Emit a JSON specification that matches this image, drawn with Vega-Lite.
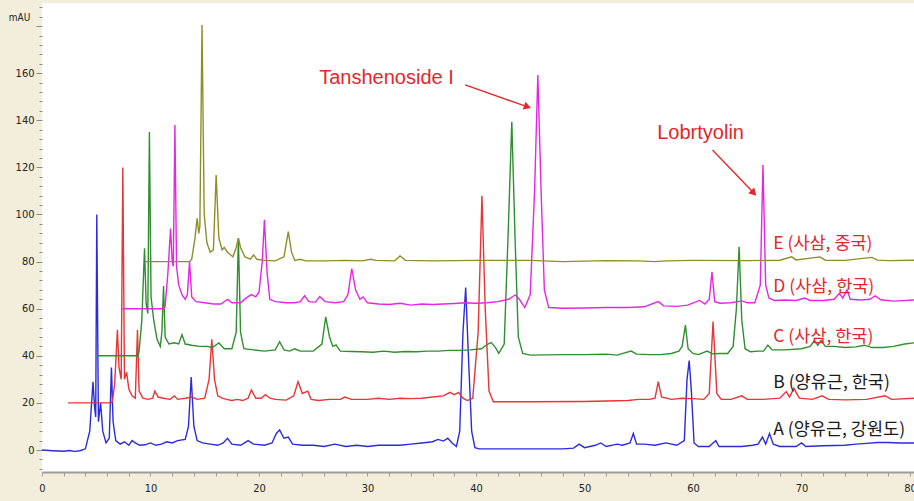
{
  "$schema": "https://vega.github.io/schema/vega-lite/v6.json",
  "width": 872,
  "height": 469,
  "autosize": {"type": "none"},
  "padding": {"left": 42, "top": 3, "right": 0, "bottom": 29},
  "background": "#f2eedb",
  "config": {"view": {"fill": "white", "stroke": null}, "axis": {"labelOverlap": false, "labelFlush": false, "grid": false, "tickCount": 200}},
  "resolve": {"scale": {"color": "independent"}},
  "datasets": {
    "traces": [
      {"s":"A","t":0,"v":0},{"s":"A","t":1,"v":-0.3},{"s":"A","t":2,"v":-0.5},{"s":"A","t":2.5,"v":-0.2},{"s":"A","t":3,"v":-0.6},{"s":"A","t":3.5,"v":-0.3},{"s":"A","t":4,"v":0.5},{"s":"A","t":4.4,"v":8},{"s":"A","t":4.7,"v":29},{"s":"A","t":4.85,"v":18},{"s":"A","t":4.95,"v":14},{"s":"A","t":5.05,"v":100},{"s":"A","t":5.2,"v":12},{"s":"A","t":5.4,"v":20},{"s":"A","t":5.6,"v":8},{"s":"A","t":5.9,"v":3},{"s":"A","t":6.2,"v":5},{"s":"A","t":6.4,"v":35},{"s":"A","t":6.55,"v":12},{"s":"A","t":6.8,"v":4},{"s":"A","t":7.2,"v":2.5},{"s":"A","t":7.6,"v":3.5},{"s":"A","t":8,"v":2},{"s":"A","t":8.3,"v":4},{"s":"A","t":8.6,"v":3},{"s":"A","t":9,"v":2},{"s":"A","t":9.5,"v":2.2},{"s":"A","t":10,"v":3},{"s":"A","t":10.5,"v":2},{"s":"A","t":11,"v":2.5},{"s":"A","t":11.5,"v":3.5},{"s":"A","t":12,"v":3},{"s":"A","t":12.5,"v":4},{"s":"A","t":13.2,"v":4.5},{"s":"A","t":13.5,"v":10},{"s":"A","t":13.75,"v":31},{"s":"A","t":14,"v":10},{"s":"A","t":14.3,"v":4},{"s":"A","t":14.8,"v":3},{"s":"A","t":15.5,"v":2.5},{"s":"A","t":16.2,"v":2},{"s":"A","t":16.7,"v":3},{"s":"A","t":17.1,"v":5},{"s":"A","t":17.5,"v":2.5},{"s":"A","t":18.3,"v":2},{"s":"A","t":19,"v":4},{"s":"A","t":19.5,"v":2.5},{"s":"A","t":20.5,"v":2},{"s":"A","t":21.2,"v":3},{"s":"A","t":21.6,"v":7},{"s":"A","t":21.9,"v":8.5},{"s":"A","t":22.3,"v":5},{"s":"A","t":22.7,"v":5.5},{"s":"A","t":23.1,"v":2.5},{"s":"A","t":24,"v":2},{"s":"A","t":25,"v":2},{"s":"A","t":26,"v":1.5},{"s":"A","t":27,"v":2.5},{"s":"A","t":28,"v":1.5},{"s":"A","t":29,"v":2},{"s":"A","t":30,"v":1.5},{"s":"A","t":31,"v":2},{"s":"A","t":32,"v":2},{"s":"A","t":33,"v":2},{"s":"A","t":34,"v":2.5},{"s":"A","t":35,"v":3},{"s":"A","t":36,"v":3.5},{"s":"A","t":36.5,"v":4.5},{"s":"A","t":37,"v":3.8},{"s":"A","t":37.4,"v":5},{"s":"A","t":37.8,"v":3},{"s":"A","t":38.2,"v":1.5},{"s":"A","t":38.5,"v":8},{"s":"A","t":38.8,"v":50},{"s":"A","t":39.05,"v":69},{"s":"A","t":39.3,"v":40},{"s":"A","t":39.6,"v":8},{"s":"A","t":39.9,"v":1},{"s":"A","t":40.3,"v":0.5},{"s":"A","t":45,"v":0.5},{"s":"A","t":48,"v":0.5},{"s":"A","t":49,"v":0.8},{"s":"A","t":49.5,"v":2.5},{"s":"A","t":50,"v":1},{"s":"A","t":51,"v":2},{"s":"A","t":51.5,"v":3},{"s":"A","t":52,"v":1.5},{"s":"A","t":53,"v":2.5},{"s":"A","t":53.5,"v":2},{"s":"A","t":54.2,"v":3},{"s":"A","t":54.5,"v":7},{"s":"A","t":54.8,"v":2.5},{"s":"A","t":55.5,"v":2.5},{"s":"A","t":56.5,"v":2},{"s":"A","t":57.5,"v":3},{"s":"A","t":58.5,"v":2},{"s":"A","t":59.2,"v":4},{"s":"A","t":59.45,"v":30},{"s":"A","t":59.65,"v":38},{"s":"A","t":59.85,"v":25},{"s":"A","t":60.1,"v":3},{"s":"A","t":60.5,"v":1.5},{"s":"A","t":61.5,"v":1.5},{"s":"A","t":62.1,"v":4},{"s":"A","t":62.4,"v":1.5},{"s":"A","t":63.5,"v":1.5},{"s":"A","t":64.5,"v":1.5},{"s":"A","t":65.5,"v":2},{"s":"A","t":66,"v":2.5},{"s":"A","t":66.4,"v":5.5},{"s":"A","t":66.7,"v":2.5},{"s":"A","t":67.05,"v":7},{"s":"A","t":67.4,"v":2.5},{"s":"A","t":68,"v":1.5},{"s":"A","t":69.5,"v":1.5},{"s":"A","t":70,"v":3},{"s":"A","t":70.4,"v":1.5},{"s":"A","t":72,"v":1.8},{"s":"A","t":74,"v":2},{"s":"A","t":75,"v":2.5},{"s":"A","t":76,"v":2.8},{"s":"A","t":77,"v":3.2},{"s":"A","t":78,"v":3.2},{"s":"A","t":79,"v":3},{"s":"A","t":80.4,"v":3},
      {"s":"B","t":2.4,"v":20},{"s":"B","t":6.4,"v":20},{"s":"B","t":6.5,"v":21},{"s":"B","t":6.7,"v":28},{"s":"B","t":6.95,"v":51},{"s":"B","t":7.1,"v":35},{"s":"B","t":7.3,"v":30},{"s":"B","t":7.45,"v":120},{"s":"B","t":7.6,"v":30},{"s":"B","t":7.8,"v":33},{"s":"B","t":8,"v":26},{"s":"B","t":8.3,"v":23},{"s":"B","t":8.6,"v":22},{"s":"B","t":8.8,"v":51},{"s":"B","t":8.95,"v":25},{"s":"B","t":9.3,"v":22},{"s":"B","t":9.8,"v":21.5},{"s":"B","t":10.2,"v":22},{"s":"B","t":10.4,"v":25},{"s":"B","t":10.7,"v":22.5},{"s":"B","t":11.2,"v":22},{"s":"B","t":11.8,"v":21.5},{"s":"B","t":12.2,"v":23},{"s":"B","t":12.5,"v":21.5},{"s":"B","t":13.2,"v":22},{"s":"B","t":13.8,"v":22.5},{"s":"B","t":14.3,"v":21.5},{"s":"B","t":15,"v":22},{"s":"B","t":15.4,"v":30},{"s":"B","t":15.65,"v":47},{"s":"B","t":15.9,"v":30},{"s":"B","t":16.2,"v":23},{"s":"B","t":16.6,"v":22},{"s":"B","t":17,"v":21.5},{"s":"B","t":17.5,"v":21},{"s":"B","t":18,"v":21.5},{"s":"B","t":18.5,"v":21},{"s":"B","t":19,"v":22},{"s":"B","t":19.3,"v":25.5},{"s":"B","t":19.7,"v":22},{"s":"B","t":20.2,"v":22},{"s":"B","t":20.6,"v":23.5},{"s":"B","t":21,"v":22},{"s":"B","t":21.5,"v":21.5},{"s":"B","t":22.5,"v":21.2},{"s":"B","t":23.2,"v":23},{"s":"B","t":23.6,"v":29},{"s":"B","t":24,"v":24},{"s":"B","t":24.5,"v":25},{"s":"B","t":24.8,"v":21.5},{"s":"B","t":25.5,"v":21},{"s":"B","t":26.5,"v":21.5},{"s":"B","t":27.5,"v":21.5},{"s":"B","t":27.9,"v":22.5},{"s":"B","t":28.5,"v":21.5},{"s":"B","t":30,"v":21.5},{"s":"B","t":31,"v":22},{"s":"B","t":32,"v":21.5},{"s":"B","t":33,"v":22},{"s":"B","t":34,"v":21.8},{"s":"B","t":35,"v":22},{"s":"B","t":36,"v":22.5},{"s":"B","t":37,"v":23},{"s":"B","t":37.6,"v":24.5},{"s":"B","t":38,"v":23.5},{"s":"B","t":38.4,"v":24.5},{"s":"B","t":38.8,"v":22},{"s":"B","t":39.2,"v":21},{"s":"B","t":39.7,"v":22},{"s":"B","t":40.2,"v":50},{"s":"B","t":40.55,"v":108},{"s":"B","t":40.85,"v":60},{"s":"B","t":41.2,"v":25},{"s":"B","t":41.6,"v":20.5},{"s":"B","t":45,"v":20.5},{"s":"B","t":50,"v":20.6},{"s":"B","t":54,"v":21},{"s":"B","t":55,"v":21.5},{"s":"B","t":56,"v":21.5},{"s":"B","t":56.5,"v":22},{"s":"B","t":56.8,"v":29},{"s":"B","t":57.1,"v":22.5},{"s":"B","t":58,"v":21.5},{"s":"B","t":59,"v":22},{"s":"B","t":60,"v":21.8},{"s":"B","t":61,"v":21.5},{"s":"B","t":61.5,"v":24},{"s":"B","t":61.85,"v":54.5},{"s":"B","t":62.2,"v":24},{"s":"B","t":62.6,"v":21.5},{"s":"B","t":63.5,"v":21.5},{"s":"B","t":64.5,"v":23},{"s":"B","t":65,"v":21.5},{"s":"B","t":66.5,"v":21.5},{"s":"B","t":68,"v":22},{"s":"B","t":68.6,"v":24.8},{"s":"B","t":68.9,"v":22.5},{"s":"B","t":69.3,"v":26.2},{"s":"B","t":69.8,"v":22},{"s":"B","t":71,"v":21.5},{"s":"B","t":71.9,"v":23},{"s":"B","t":72.5,"v":21.5},{"s":"B","t":74,"v":21.3},{"s":"B","t":76,"v":21.5},{"s":"B","t":77.7,"v":23},{"s":"B","t":78.3,"v":21.5},{"s":"B","t":80.4,"v":22},
      {"s":"C","t":5.06,"v":40},{"s":"C","t":8.85,"v":40},{"s":"C","t":8.95,"v":42},{"s":"C","t":9.2,"v":55},{"s":"C","t":9.45,"v":85.7},{"s":"C","t":9.6,"v":62},{"s":"C","t":9.75,"v":58},{"s":"C","t":9.9,"v":135},{"s":"C","t":10.05,"v":65},{"s":"C","t":10.3,"v":55},{"s":"C","t":10.6,"v":47},{"s":"C","t":10.9,"v":44},{"s":"C","t":11.05,"v":50},{"s":"C","t":11.2,"v":69.6},{"s":"C","t":11.35,"v":48},{"s":"C","t":11.7,"v":45},{"s":"C","t":12.2,"v":45.5},{"s":"C","t":12.6,"v":45},{"s":"C","t":12.9,"v":49},{"s":"C","t":13.2,"v":45},{"s":"C","t":13.8,"v":44.5},{"s":"C","t":14.5,"v":44},{"s":"C","t":15.2,"v":44},{"s":"C","t":15.7,"v":43.5},{"s":"C","t":16.3,"v":45.5},{"s":"C","t":16.8,"v":43},{"s":"C","t":17.5,"v":43},{"s":"C","t":17.9,"v":50},{"s":"C","t":18.1,"v":90},{"s":"C","t":18.3,"v":50},{"s":"C","t":18.6,"v":43},{"s":"C","t":19.5,"v":42.5},{"s":"C","t":20.5,"v":42},{"s":"C","t":21.5,"v":42.5},{"s":"C","t":21.9,"v":46},{"s":"C","t":22.3,"v":42.5},{"s":"C","t":22.8,"v":42},{"s":"C","t":23.3,"v":43},{"s":"C","t":23.8,"v":42},{"s":"C","t":25,"v":42},{"s":"C","t":25.8,"v":45},{"s":"C","t":26.15,"v":56.5},{"s":"C","t":26.5,"v":48},{"s":"C","t":26.8,"v":44},{"s":"C","t":27.1,"v":44.6},{"s":"C","t":27.5,"v":42},{"s":"C","t":28.5,"v":41.8},{"s":"C","t":29.5,"v":41.7},{"s":"C","t":30.5,"v":41.5},{"s":"C","t":31.5,"v":42},{"s":"C","t":32.5,"v":41.5},{"s":"C","t":33.5,"v":41.8},{"s":"C","t":34.5,"v":41.7},{"s":"C","t":35.5,"v":42},{"s":"C","t":36.5,"v":42},{"s":"C","t":37.5,"v":42.3},{"s":"C","t":38.5,"v":42.3},{"s":"C","t":39.5,"v":42.5},{"s":"C","t":40.5,"v":43},{"s":"C","t":41.1,"v":45},{"s":"C","t":41.4,"v":45.6},{"s":"C","t":41.8,"v":43.5},{"s":"C","t":42.1,"v":41},{"s":"C","t":42.6,"v":45},{"s":"C","t":42.95,"v":90},{"s":"C","t":43.3,"v":139.4},{"s":"C","t":43.6,"v":90},{"s":"C","t":43.9,"v":48},{"s":"C","t":44.3,"v":41},{"s":"C","t":45,"v":40.3},{"s":"C","t":48,"v":40.5},{"s":"C","t":50,"v":40.5},{"s":"C","t":52,"v":40.7},{"s":"C","t":53,"v":40.3},{"s":"C","t":54.3,"v":42},{"s":"C","t":54.8,"v":40.7},{"s":"C","t":56,"v":40.5},{"s":"C","t":57,"v":40.5},{"s":"C","t":58,"v":41},{"s":"C","t":58.7,"v":42},{"s":"C","t":59,"v":44},{"s":"C","t":59.3,"v":53},{"s":"C","t":59.55,"v":43},{"s":"C","t":60,"v":41},{"s":"C","t":60.5,"v":40.5},{"s":"C","t":61.3,"v":42},{"s":"C","t":61.8,"v":40.8},{"s":"C","t":62.5,"v":41},{"s":"C","t":63.2,"v":41},{"s":"C","t":63.7,"v":44},{"s":"C","t":64,"v":60},{"s":"C","t":64.25,"v":86.3},{"s":"C","t":64.5,"v":55},{"s":"C","t":64.8,"v":43},{"s":"C","t":65.3,"v":41.7},{"s":"C","t":66,"v":42},{"s":"C","t":66.5,"v":42},{"s":"C","t":66.9,"v":44.5},{"s":"C","t":67.3,"v":42.5},{"s":"C","t":68.5,"v":42.5},{"s":"C","t":70,"v":43},{"s":"C","t":70.8,"v":44},{"s":"C","t":71.2,"v":46.5},{"s":"C","t":71.5,"v":44.5},{"s":"C","t":71.8,"v":46.5},{"s":"C","t":72.2,"v":44},{"s":"C","t":73,"v":44},{"s":"C","t":74,"v":43.5},{"s":"C","t":75,"v":43.8},{"s":"C","t":75.8,"v":44.5},{"s":"C","t":76.5,"v":43.5},{"s":"C","t":77.5,"v":43.5},{"s":"C","t":78.5,"v":44},{"s":"C","t":79.5,"v":45},{"s":"C","t":80.4,"v":45.5},
      {"s":"D","t":7.4,"v":60},{"s":"D","t":11.2,"v":60},{"s":"D","t":11.35,"v":61},{"s":"D","t":11.6,"v":75},{"s":"D","t":11.85,"v":94},{"s":"D","t":12,"v":80},{"s":"D","t":12.1,"v":78},{"s":"D","t":12.25,"v":138},{"s":"D","t":12.4,"v":78},{"s":"D","t":12.6,"v":70},{"s":"D","t":12.9,"v":66},{"s":"D","t":13.2,"v":64},{"s":"D","t":13.4,"v":66},{"s":"D","t":13.6,"v":80},{"s":"D","t":13.8,"v":65},{"s":"D","t":14.2,"v":63},{"s":"D","t":15,"v":62.5},{"s":"D","t":15.8,"v":62},{"s":"D","t":16.5,"v":62},{"s":"D","t":17.1,"v":64},{"s":"D","t":17.5,"v":62.5},{"s":"D","t":18.3,"v":62.5},{"s":"D","t":18.8,"v":64.5},{"s":"D","t":19.3,"v":66},{"s":"D","t":19.7,"v":65},{"s":"D","t":20,"v":67},{"s":"D","t":20.3,"v":80},{"s":"D","t":20.5,"v":97.7},{"s":"D","t":20.75,"v":75},{"s":"D","t":21,"v":64},{"s":"D","t":21.5,"v":63},{"s":"D","t":22.5,"v":62.5},{"s":"D","t":23.3,"v":62.5},{"s":"D","t":23.8,"v":63},{"s":"D","t":24.2,"v":65.5},{"s":"D","t":24.6,"v":63},{"s":"D","t":25.2,"v":62.8},{"s":"D","t":25.6,"v":65.2},{"s":"D","t":26.1,"v":63},{"s":"D","t":27,"v":62.5},{"s":"D","t":27.8,"v":63},{"s":"D","t":28.2,"v":66},{"s":"D","t":28.55,"v":77},{"s":"D","t":28.9,"v":68},{"s":"D","t":29.3,"v":64},{"s":"D","t":29.6,"v":65},{"s":"D","t":30,"v":62.5},{"s":"D","t":31,"v":62},{"s":"D","t":32,"v":61.8},{"s":"D","t":33,"v":62.3},{"s":"D","t":34,"v":61.5},{"s":"D","t":35,"v":62},{"s":"D","t":36,"v":61.8},{"s":"D","t":37,"v":62},{"s":"D","t":38,"v":62.2},{"s":"D","t":39,"v":62.5},{"s":"D","t":40,"v":62.3},{"s":"D","t":41,"v":62.5},{"s":"D","t":42,"v":63},{"s":"D","t":43,"v":64},{"s":"D","t":43.6,"v":65.8},{"s":"D","t":44,"v":64},{"s":"D","t":44.5,"v":60.5},{"s":"D","t":45,"v":66},{"s":"D","t":45.4,"v":110},{"s":"D","t":45.7,"v":159.2},{"s":"D","t":46,"v":110},{"s":"D","t":46.3,"v":68},{"s":"D","t":46.7,"v":60.5},{"s":"D","t":48,"v":60.2},{"s":"D","t":50,"v":60.3},{"s":"D","t":52,"v":60.5},{"s":"D","t":54,"v":60.5},{"s":"D","t":55.5,"v":60.8},{"s":"D","t":56.8,"v":63},{"s":"D","t":57.3,"v":61.2},{"s":"D","t":58.5,"v":61},{"s":"D","t":59.5,"v":61.5},{"s":"D","t":60.6,"v":63.5},{"s":"D","t":61.1,"v":62},{"s":"D","t":61.5,"v":64},{"s":"D","t":61.75,"v":75.7},{"s":"D","t":62,"v":63},{"s":"D","t":62.5,"v":62.3},{"s":"D","t":63.5,"v":62.5},{"s":"D","t":64.5,"v":63.3},{"s":"D","t":65,"v":62.5},{"s":"D","t":65.7,"v":62.5},{"s":"D","t":66.2,"v":70},{"s":"D","t":66.45,"v":121},{"s":"D","t":66.7,"v":70},{"s":"D","t":67,"v":64.5},{"s":"D","t":67.5,"v":63.5},{"s":"D","t":68.5,"v":63.7},{"s":"D","t":69.5,"v":63.5},{"s":"D","t":70.3,"v":64.5},{"s":"D","t":70.8,"v":63.5},{"s":"D","t":72,"v":63.5},{"s":"D","t":73,"v":64},{"s":"D","t":73.5,"v":66.5},{"s":"D","t":73.8,"v":64.5},{"s":"D","t":74.2,"v":68},{"s":"D","t":74.5,"v":64},{"s":"D","t":75.5,"v":63.7},{"s":"D","t":76.3,"v":64},{"s":"D","t":76.8,"v":65.5},{"s":"D","t":77.3,"v":63.8},{"s":"D","t":78.5,"v":63.2},{"s":"D","t":80.4,"v":63.7},
      {"s":"E","t":9.5,"v":80},{"s":"E","t":13.6,"v":80},{"s":"E","t":13.8,"v":81},{"s":"E","t":14.1,"v":90},{"s":"E","t":14.3,"v":98.4},{"s":"E","t":14.45,"v":92},{"s":"E","t":14.55,"v":95},{"s":"E","t":14.75,"v":180.5},{"s":"E","t":14.95,"v":100},{"s":"E","t":15.2,"v":88},{"s":"E","t":15.5,"v":84},{"s":"E","t":15.8,"v":85},{"s":"E","t":16.05,"v":116.8},{"s":"E","t":16.3,"v":90},{"s":"E","t":16.6,"v":85},{"s":"E","t":16.8,"v":86},{"s":"E","t":17.1,"v":84},{"s":"E","t":17.6,"v":82},{"s":"E","t":17.9,"v":86},{"s":"E","t":18.1,"v":89.9},{"s":"E","t":18.3,"v":86},{"s":"E","t":18.7,"v":82},{"s":"E","t":19.2,"v":81},{"s":"E","t":19.5,"v":82.8},{"s":"E","t":19.8,"v":81},{"s":"E","t":20.5,"v":80.5},{"s":"E","t":21.5,"v":80.3},{"s":"E","t":22.3,"v":82},{"s":"E","t":22.7,"v":92.7},{"s":"E","t":23,"v":84},{"s":"E","t":23.3,"v":80.5},{"s":"E","t":23.8,"v":81},{"s":"E","t":24.3,"v":80.3},{"s":"E","t":26,"v":80.3},{"s":"E","t":28,"v":80.5},{"s":"E","t":29.5,"v":80.3},{"s":"E","t":30.3,"v":81},{"s":"E","t":30.8,"v":80.5},{"s":"E","t":32.5,"v":80.3},{"s":"E","t":33,"v":82.4},{"s":"E","t":33.5,"v":80.5},{"s":"E","t":36,"v":80.3},{"s":"E","t":40,"v":80.5},{"s":"E","t":45,"v":80.5},{"s":"E","t":48,"v":80},{"s":"E","t":50,"v":80.2},{"s":"E","t":52,"v":80.4},{"s":"E","t":55,"v":80.3},{"s":"E","t":56.5,"v":80},{"s":"E","t":57.5,"v":80.3},{"s":"E","t":60,"v":80.5},{"s":"E","t":65,"v":80.4},{"s":"E","t":68,"v":80.6},{"s":"E","t":69.1,"v":82},{"s":"E","t":69.5,"v":80.7},{"s":"E","t":71.7,"v":82},{"s":"E","t":72.2,"v":80.6},{"s":"E","t":74,"v":80.5},{"s":"E","t":76.5,"v":81.8},{"s":"E","t":77,"v":80.6},{"s":"E","t":78,"v":80.4},{"s":"E","t":80.4,"v":80.6}
    ],
    "labels": [
      {"label":"E (사삼, 중국)","t":67.4,"v":87.6,"grp":"red"},
      {"label":"D (사삼, 한국)","t":67.4,"v":69.3,"grp":"red"},
      {"label":"C (사삼, 한국)","t":67.4,"v":48.1,"grp":"red"},
      {"label":"B (양유근, 한국)","t":67.4,"v":28.3,"grp":"black"},
      {"label":"A (양유근, 강원도)","t":67.4,"v":8.5,"grp":"black"}
    ],
    "notes": [
      {"label":"Tanshenoside I","t":31.75,"v":158},
      {"label":"Lobrtyolin","t":60.7,"v":134.6}
    ],
    "arrows": [
      {"t":39.0,"v":155,"t2":44.75,"v2":145.7,"ang":19.5},
      {"t":61.8,"v":127.4,"t2":65.6,"v2":109.1,"ang":46}
    ]
  },
  "layer": [
    {
      "data": {"name": "traces"},
      "mark": {"type": "line", "strokeWidth": 1.4, "clip": true},
      "encoding": {
        "x": {"field": "t", "type": "quantitative",
          "scale": {"domain": [0, 80.37], "nice": false, "zero": false},
          "axis": {"title": null, "values": [0,2,4,6,8,10,12,14,16,18,20,22,24,26,28,30,32,34,36,38,40,42,44,46,48,50,52,54,56,58,60,62,64,66,68,70,72,74,76,78,80],
            "labelExpr": "datum.value % 10 === 0 ? format(datum.value, 'd') : ''", "tickCount": 200,
            "labelOverlap": false, "labelFlush": false, "grid": false,
            "domainColor": "#9c9c9c", "domainWidth": 2, "tickColor": "#9c9c9c", "tickSize": 4,
            "labelFont": "Liberation Sans Narrow, DejaVu Sans Condensed, Liberation Sans", "labelFontSize": 11, "labelColor": "#222222", "labelPadding": 6}},
        "y": {"field": "v", "type": "quantitative",
          "scale": {"domain": [-9.34, 189.8], "nice": false, "zero": false},
          "axis": {"title": "mAU", "titleAngle": 0, "titleX": -23, "titleY": 14, "titleAlign": "center", "titleBaseline": "middle",
            "titleFont": "Liberation Sans Narrow, DejaVu Sans Condensed, Liberation Sans", "titleFontSize": 10, "titleFontWeight": "normal", "titleColor": "#222222",
            "values": [-8,-4,0,4,8,12,16,20,24,28,32,36,40,44,48,52,56,60,64,68,72,76,80,84,88,92,96,100,104,108,112,116,120,124,128,132,136,140,144,148,152,156,160,164,168,172,176,180,184,188],
            "labelExpr": "datum.value % 20 === 0 && datum.value <= 160 ? format(datum.value, 'd') : ''", "tickCount": 200,
            "labelOverlap": false, "labelFlush": false, "grid": false, "domain": false,
            "tickColor": "#8a8a8a", "tickSize": {"condition": {"test": "datum.value % 20 === 0", "value": 6}, "value": 3},
            "labelFont": "Liberation Sans Narrow, DejaVu Sans Condensed, Liberation Sans", "labelFontSize": 11, "labelColor": "#222222", "labelPadding": 2}},
        "color": {"field": "s", "type": "nominal", "legend": null,
          "scale": {"domain": ["A","B","C","D","E"], "range": ["#2b2bdc","#e83535","#2f8f2f","#e526e5","#8f8f2a"]}}
      }
    },
    {
      "data": {"name": "labels"},
      "mark": {"type": "text", "align": "left", "baseline": "middle", "font": "Noto Sans CJK KR", "fontSize": 17.5},
      "encoding": {
        "x": {"field": "t", "type": "quantitative"},
        "y": {"field": "v", "type": "quantitative"},
        "text": {"field": "label"},
        "color": {"field": "grp", "type": "nominal", "legend": null, "scale": {"domain": ["red","black"], "range": ["#e5262a","#1a1a1a"]}}
      }
    },
    {
      "data": {"name": "notes"},
      "mark": {"type": "text", "align": "center", "baseline": "middle", "font": "Liberation Sans", "fontSize": 20, "color": "#e5262a"},
      "encoding": {
        "x": {"field": "t", "type": "quantitative"},
        "y": {"field": "v", "type": "quantitative"},
        "text": {"field": "label"}
      }
    },
    {
      "data": {"name": "arrows"},
      "mark": {"type": "rule", "color": "#e5262a", "strokeWidth": 1.3},
      "encoding": {
        "x": {"field": "t", "type": "quantitative"},
        "y": {"field": "v", "type": "quantitative"},
        "x2": {"field": "t2"},
        "y2": {"field": "v2"}
      }
    },
    {
      "data": {"name": "arrows"},
      "mark": {"type": "point", "shape": "triangle-right", "filled": true, "color": "#e5262a", "size": 70, "opacity": 1},
      "encoding": {
        "x": {"field": "t2", "type": "quantitative"},
        "y": {"field": "v2", "type": "quantitative"},
        "angle": {"field": "ang", "type": "quantitative", "scale": null}
      }
    }
  ]
}
